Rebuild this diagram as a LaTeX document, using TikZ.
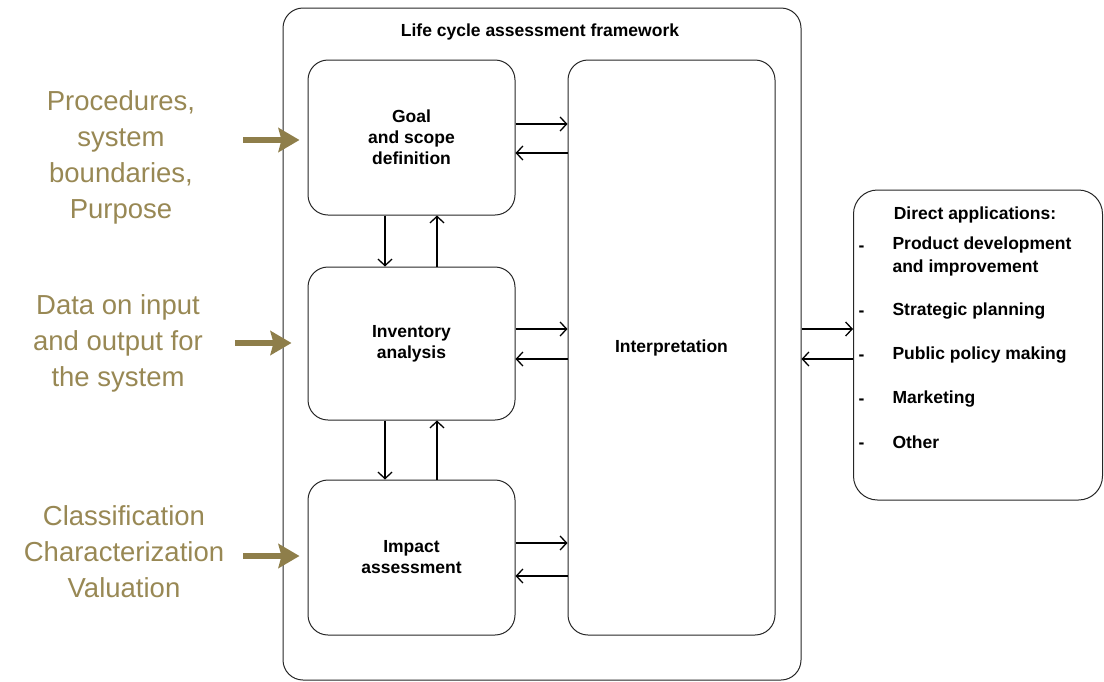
\documentclass[tikz,border=0pt]{standalone}
\usepackage{fontspec}
\setmainfont{Liberation Sans}
\usepackage{xcolor}
\usepackage{tikz}
\usetikzlibrary{arrows.meta,positioning,calc}

\definecolor{olivetext}{RGB}{152,136,84}
\definecolor{olivefeed}{RGB}{142,126,74}

\begin{document}
\begin{tikzpicture}[x=1pt, y=-1pt,
    frame/.style={draw=black!85, line width=1pt, rounded corners=20pt},
    pbox/.style={frame, minimum width=207pt, minimum height=155pt, align=center, font=\fontsize{17.5}{21}\selectfont\bfseries},
    side/.style={text=olivetext, align=center, font=\fontsize{27.5}{36}\selectfont},
    link/.style={-{Straight Barb[length=6.5pt,width=14pt]}, line width=1.3pt},
    feed/.style={-{Stealth[length=21pt,width=24pt,inset=3pt]}, draw=olivefeed, line width=5.5pt},
    item/.style={anchor=west, align=left, font=\fontsize{17.5}{23}\selectfont\bfseries},
    bullet/.style={anchor=base west, font=\fontsize{17.5}{23}\selectfont\bfseries}]

    \useasboundingbox (0,0) rectangle (1104,681);

    % framework
    \node[frame, minimum width=518pt, minimum height=672pt] (lca) at (542,344) {};
    \node[font=\fontsize{17.5}{21}\selectfont\bfseries] (title) at (540,32) {Life cycle assessment framework};

    \node[pbox] (goal) at (411.5,137.5) {Goal\\and scope\\definition};
    \node[pbox, minimum height=153pt] (inv) at (411.5,343.5) {Inventory\\analysis};
    \node[pbox] (impact) at (411.5,557.5) {Impact\\assessment};
    \node[pbox, minimum height=575pt] (interp) at (671.5,347.5) {Interpretation};

    % applications
    \node[frame, rounded corners=24pt, minimum width=249pt, minimum height=310pt] (apps) at (978,345) {};
    \node[font=\fontsize{17.5}{21}\selectfont\bfseries] (appt) at (975,215) {Direct applications:};
    \node[item] (a1) at (889,256.5) {Product development\\and improvement};
    \node[item] (a2) at (889,311) {Strategic planning};
    \node[item] (a3) at (889,355) {Public policy making};
    \node[item] (a4) at (889,399) {Marketing};
    \node[item] (a5) at (889,442) {Other};
    \node[bullet] (d1) at (855,251) {-};
    \node[bullet] (d2) at (855,316) {-};
    \node[bullet] (d3) at (855,360) {-};
    \node[bullet] (d4) at (855,404) {-};
    \node[bullet] (d5) at (855,448) {-};

    % inputs
    \node[side] (in1) at (121,157) {Procedures,\\system\\boundaries,\\Purpose};
    \node[side] (in2) at (118,343) {Data on input\\and output for\\the system};
    \node[side] (in3) at (124,552) {Classification\\Characterization\\Valuation};
    \coordinate (f1) at (243,140);
    \coordinate (f2) at (235,343);
    \coordinate (f3) at (243,556);
    \draw[feed] (f1) -- ([xshift=-8pt]goal.west |- f1);
    \draw[feed] (f2) -- ([xshift=-16pt]inv.west |- f2);
    \draw[feed] (f3) -- ([xshift=-8pt]impact.west |- f3);

    % phases <-> interpretation
    \draw[link] ([yshift=13.5pt]goal.east) -- ([yshift=13.5pt]goal.east -| interp.west);
    \draw[link] ([yshift=-15.5pt]goal.east -| interp.west) -- ([yshift=-15.5pt]goal.east);
    \draw[link] ([yshift=14.5pt]inv.east) -- ([yshift=14.5pt]inv.east -| interp.west);
    \draw[link] ([yshift=-15.5pt]inv.east -| interp.west) -- ([yshift=-15.5pt]inv.east);
    \draw[link] ([yshift=14.5pt]impact.east) -- ([yshift=14.5pt]impact.east -| interp.west);
    \draw[link] ([yshift=-18.5pt]impact.east -| interp.west) -- ([yshift=-18.5pt]impact.east);

    % phase to phase
    \draw[link] ([xshift=-26.5pt]goal.south) -- ([xshift=-26.5pt]inv.north);
    \draw[link] ([xshift=25.5pt]inv.north) -- ([xshift=25.5pt]goal.south);
    \draw[link] ([xshift=-26.5pt]inv.south) -- ([xshift=-26.5pt]impact.north);
    \draw[link] ([xshift=25.5pt]impact.north) -- ([xshift=25.5pt]inv.south);

    % framework <-> applications
    \draw[link] ([yshift=15pt]lca.east) -- ([yshift=15pt]lca.east -| apps.west);
    \draw[link] ([yshift=-15pt]lca.east -| apps.west) -- ([yshift=-15pt]lca.east);

\end{tikzpicture}
\end{document}
